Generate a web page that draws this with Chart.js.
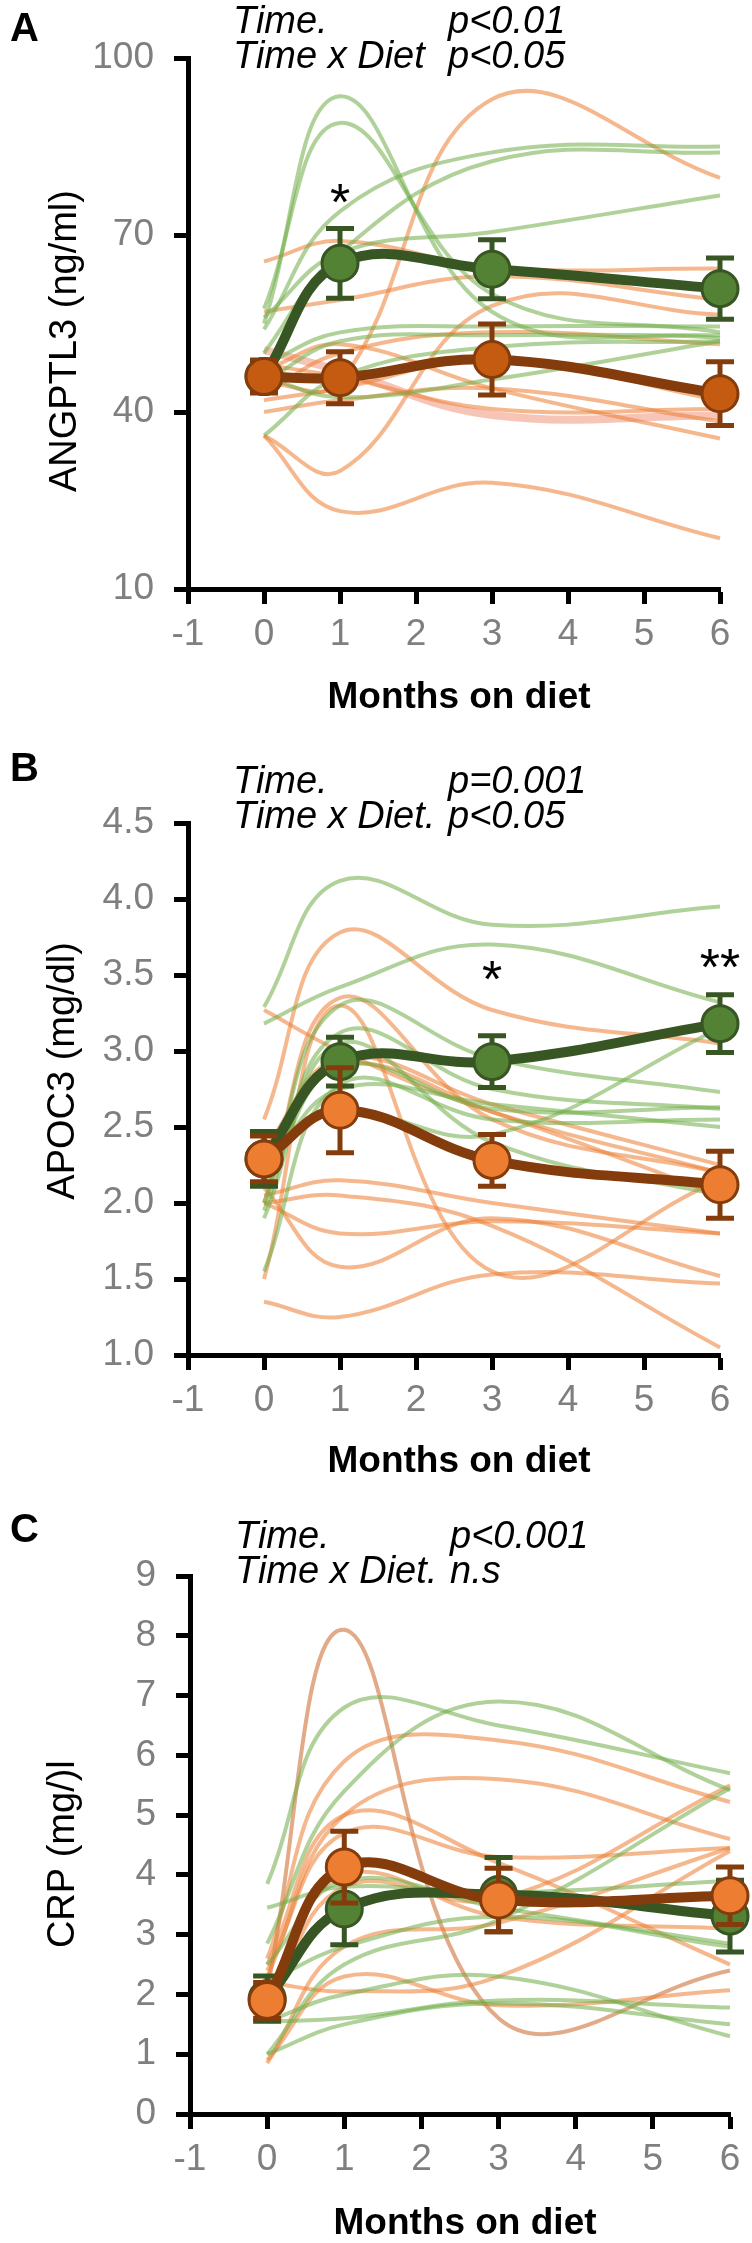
<!DOCTYPE html>
<html>
<head>
<meta charset="utf-8">
<script src="https://cdn.jsdelivr.net/npm/chart.js@4.4.1/dist/chart.umd.min.js"></script>
<style>
  body { margin: 0; background: #fff; width: 752px; height: 2243px; overflow: hidden; position: relative; }
  canvas { position: absolute; left: 0; }
</style>
</head>
<body>
<canvas id="chartA" width="752" height="740" style="top:0"></canvas>
<canvas id="chartB" width="752" height="740" style="top:740px"></canvas>
<canvas id="chartC" width="752" height="763" style="top:1480px"></canvas>
<script>
const months = [0, 1, 3, 6];

// A - ANGPTL3 (ng/ml)
const angGreenMean = [46.0, 65.2, 64.2, 60.9];
const angGreenErr = [2.6, 5.9, 5.0, 5.2];
const angOrangeMean = [46.0, 45.8, 48.9, 43.1];
const angOrangeErr = [2.8, 4.4, 6.0, 5.4];
const angGreenSubjects = [
  [55, 93.5, 57, 52.5],
  [57.5, 89, 60, 53.5],
  [54, 74, 84, 85],
  [50, 67, 82.5, 84],
  [56, 67, 70.5, 76.7],
  [48, 53.5, 54.5, 54.5],
  [45, 52, 53, 53],
  [36, 46, 51, 52],
  [46, 42.5, 45.5, 52]
];
const angOrangeSubjects = [
  [65.5, 69, 64.5, 64.3],
  [57, 59, 63, 59],
  [45, 45, 93, 79.7],
  [36, 30, 58, 56.5],
  [36, 23.2, 28, 18.6],
  [43, 50, 53.5, 51.5],
  [42, 44, 49, 42],
  [40, 42, 44, 38.4],
  [47, 51.5, 44, 35.5],
  [48, 46, 40.5, 40.5]
];
const angPinkSubject = [50.5, 47, 39.5, 39.4];

// B - APOC3 (mg/dl)
const apoGreenMean = [2.29, 2.93, 2.93, 3.18];
const apoGreenErr = [0.18, 0.16, 0.17, 0.19];
const apoOrangeMean = [2.29, 2.61, 2.28, 2.12];
const apoOrangeErr = [0.15, 0.28, 0.17, 0.22];
const apoGreenSubjects = [
  [3.29, 4.12, 3.83, 3.95],
  [3.18, 3.42, 3.70, 3.32],
  [2.0, 3.3, 2.95, 2.73],
  [1.95, 3.12, 2.75, 2.62],
  [2.1, 2.9, 2.62, 2.63],
  [1.55, 2.78, 2.55, 2.55],
  [2.2, 2.75, 2.65, 2.5],
  [1.9, 3.05, 2.4, 2.05],
  [2.3, 2.6, 2.45, 3.15]
];
const apoOrangeSubjects = [
  [2.55, 3.78, 3.27, 3.05],
  [3.27, 3.0, 2.6, 2.2],
  [2.0, 3.35, 2.55, 2.2],
  [1.5, 3.3, 1.55, 2.15],
  [2.05, 2.15, 2.0, 1.8],
  [2.0, 1.8, 1.88, 1.8],
  [2.1, 1.58, 1.9, 1.52],
  [1.35, 1.25, 1.53, 1.47],
  [2.0, 2.05, 1.85, 1.05],
  [2.2, 2.9, 2.6, 2.05],
  [2.35, 2.95, 2.65, 2.25]
];

// C - CRP
const crpGreenMean = [1.93, 3.43, 3.67, 3.31];
const crpGreenErr = [0.38, 0.6, 0.62, 0.6];
const crpOrangeMean = [1.90, 4.13, 3.58, 3.65];
const crpOrangeErr = [0.3, 0.6, 0.53, 0.48];
const crpGreenSubjects = [
  [3.85, 6.8, 6.5, 5.7],
  [2.85, 5.4, 6.9, 5.42],
  [3.45, 3.8, 3.7, 3.9],
  [2.5, 3.9, 3.45, 2.85],
  [1.0, 2.5, 3.25, 5.45],
  [1.55, 1.6, 1.9, 1.78],
  [1.0, 1.5, 1.85, 1.5],
  [1.55, 2.0, 2.3, 1.3],
  [2.2, 2.8, 3.3, 2.8]
];
const crpOrangeSubjects = [
  [2.6, 5.9, 6.25, 5.22],
  [2.3, 5.0, 5.6, 4.6],
  [2.5, 5.0, 4.2, 2.5],
  [2.4, 4.7, 4.3, 4.45],
  [0.85, 2.8, 3.2, 4.45],
  [0.9, 2.3, 1.82, 2.07],
  [2.2, 2.05, 2.3, 4.4],
  [1.8, 3.8, 3.6, 5.5],
  [2.0, 4.0, 3.3, 3.1]
];
const crpSpikeSubject = [2.1, 8.1, 1.6, 2.4];

const FONT = '"Liberation Sans", Arial, sans-serif';
const GREY = '#7f7f7f';
const LIGHT_GREEN = 'rgba(112,173,71,0.55)';
const LIGHT_ORANGE = 'rgba(237,125,49,0.55)';
const DARK_GREEN = '#375623';
const MID_GREEN = '#548235';
const DARK_ORANGE = '#843c0c';

Chart.defaults.font.family = FONT;

// error bars drawn just before their mean line, so marker sits on top
const errorBars = {
  id: 'errorBars',
  beforeDatasetDraw(chart, args) {
    const ds = chart.data.datasets[args.index];
    if (!ds.errs) return;
    const { ctx, scales: { x, y } } = chart;
    ctx.save();
    ctx.strokeStyle = ds.errColor;
    ctx.lineWidth = 5;
    ds.data.forEach((pt, i) => {
      const px = x.getPixelForValue(pt.x);
      const top = y.getPixelForValue(pt.y + ds.errs[i]);
      const bot = y.getPixelForValue(pt.y - ds.errs[i]);
      ctx.beginPath();
      ctx.moveTo(px, top); ctx.lineTo(px, bot);
      ctx.moveTo(px - 14, top); ctx.lineTo(px + 14, top);
      ctx.moveTo(px - 14, bot); ctx.lineTo(px + 14, bot);
      ctx.stroke();
    });
    ctx.restore();
  }
};

// panel letter, stats, axis titles, significance stars
const panelText = {
  id: 'panelText',
  afterDraw(chart, args, o) {
    const { ctx, chartArea: a, scales: { x, y } } = chart;
    ctx.save();
    ctx.fillStyle = '#000';
    ctx.textAlign = 'left';
    ctx.textBaseline = 'middle';
    ctx.font = 'bold 40px ' + FONT;
    ctx.fillText(o.letter, 10, o.letterY);

    ctx.font = 'italic 38px ' + FONT;
    ctx.textBaseline = 'alphabetic';
    o.stats.forEach((row, i) => {
      const by = a.top + o.statY[i];
      ctx.fillText(row[0], a.left + 45, by);
      ctx.fillText(row[1], a.left + 260, by);
    });

    ctx.textAlign = 'center';
    ctx.textBaseline = 'middle';
    ctx.font = 'bold 37px ' + FONT;
    ctx.fillText('Months on diet', (a.left + a.right) / 2 + 5, a.bottom + o.xTitleDy);

    ctx.font = '52px ' + FONT;
    ctx.textBaseline = 'alphabetic';
    o.stars.forEach(s => {
      ctx.fillText(s.text, x.getPixelForValue(s.x), y.getPixelForValue(s.y) + 30);
    });

    ctx.translate(o.yTitleX, a.top + (a.bottom - a.top) * o.yTitleFrac);
    ctx.rotate(-Math.PI / 2);
    ctx.textBaseline = 'middle';
    ctx.font = '38px ' + FONT;
    ctx.fillText(o.yTitle, 0, 0);
    ctx.restore();
  }
};

function buildChart(id, p) {
  const pts = vals => months.map((m, i) => ({ x: m, y: vals[i] }));
  const thin = (vals, color, width) => ({
    data: pts(vals), borderColor: color, borderWidth: width || 4,
    pointRadius: 0, tension: 0.4, order: 10, clip: false
  });
  const datasets = [];
  p.greenSubjects.forEach(v => datasets.push(thin(v, LIGHT_GREEN)));
  p.orangeSubjects.forEach(v => datasets.push(thin(v, LIGHT_ORANGE)));
  (p.extra || []).forEach(e => datasets.push(thin(e.values, e.color, e.width)));
  datasets.push({
    data: pts(p.greenMean), errs: p.greenErr, errColor: DARK_GREEN,
    borderColor: DARK_GREEN, borderWidth: 10, tension: 0.4,
    pointRadius: 18, pointBackgroundColor: MID_GREEN, pointBorderColor: DARK_GREEN, pointBorderWidth: 3,
    order: 2, clip: false
  });
  datasets.push({
    data: pts(p.orangeMean), errs: p.orangeErr, errColor: DARK_ORANGE,
    borderColor: DARK_ORANGE, borderWidth: 10, tension: 0.4,
    pointRadius: 18, pointBackgroundColor: p.orangeFill, pointBorderColor: DARK_ORANGE, pointBorderWidth: 3,
    order: 1, clip: false
  });

  const axisBorder = { color: '#000', width: 5 };

  new Chart(document.getElementById(id), {
    type: 'line',
    data: { datasets },
    options: {
      responsive: false,
      animation: false,
      events: [],
      layout: { padding: { left: 0, top: p.top, right: 752 - p.right, bottom: 0 } },
      plugins: {
        legend: { display: false },
        tooltip: { enabled: false },
        panelText: p.text
      },
      scales: {
        x: {
          type: 'linear', min: -1, max: 6,
          afterFit: s => { s.height = p.height - p.bottom; },
          ticks: { stepSize: 1, color: GREY, font: { size: 37 }, padding: 9 },
          grid: { drawOnChartArea: false, tickLength: 15, tickWidth: 5, tickColor: '#000' },
          border: axisBorder
        },
        y: {
          type: 'linear', min: p.yMin, max: p.yMax,
          afterFit: s => { s.width = p.left; },
          ticks: { stepSize: p.yStep, color: GREY, font: { size: 37 }, padding: 20, callback: p.yFormat },
          grid: { drawOnChartArea: false, tickLength: 14, tickWidth: 5, tickColor: '#000' },
          border: axisBorder
        }
      }
    },
    plugins: [errorBars, panelText]
  });
}

buildChart('chartA', {
  height: 740, top: 58, bottom: 589, left: 188, right: 720,
  yMin: 10, yMax: 100, yStep: 30, yFormat: v => v,
  greenMean: angGreenMean, greenErr: angGreenErr,
  orangeMean: angOrangeMean, orangeErr: angOrangeErr, orangeFill: '#c55a11',
  greenSubjects: angGreenSubjects, orangeSubjects: angOrangeSubjects,
  extra: [{ values: angPinkSubject, color: 'rgba(244,177,160,0.75)', width: 8 }],
  text: {
    letter: 'A', letterY: 30,
    stats: [['Time.', 'p<0.01'], ['Time x Diet', 'p<0.05']], statY: [-25, 10],
    xTitleDy: 109, yTitle: 'ANGPTL3 (ng/ml)', yTitleX: 66, yTitleFrac: 0.533,
    stars: [{ text: '*', x: 1, y: 77.7 }]
  }
});

buildChart('chartB', {
  height: 740, top: 83, bottom: 615, left: 188, right: 720,
  yMin: 1, yMax: 4.5, yStep: 0.5, yFormat: v => v.toFixed(1),
  greenMean: apoGreenMean, greenErr: apoGreenErr,
  orangeMean: apoOrangeMean, orangeErr: apoOrangeErr, orangeFill: '#ed7d31',
  greenSubjects: apoGreenSubjects, orangeSubjects: apoOrangeSubjects,
  text: {
    letter: 'B', letterY: 30,
    stats: [['Time.', 'p=0.001'], ['Time x Diet.', 'p<0.05']], statY: [-30, 5],
    xTitleDy: 107, yTitle: 'APOC3 (mg/dl)', yTitleX: 64, yTitleFrac: 0.466,
    stars: [{ text: '*', x: 3, y: 3.55 }, { text: '**', x: 6, y: 3.63 }]
  }
});

buildChart('chartC', {
  height: 763, top: 96, bottom: 634, left: 190, right: 730,
  yMin: 0, yMax: 9, yStep: 1, yFormat: v => v,
  greenMean: crpGreenMean, greenErr: crpGreenErr,
  orangeMean: crpOrangeMean, orangeErr: crpOrangeErr, orangeFill: '#ed7d31',
  greenSubjects: crpGreenSubjects, orangeSubjects: crpOrangeSubjects,
  extra: [{ values: crpSpikeSubject, color: 'rgba(205,115,60,0.6)', width: 4 }],
  text: {
    letter: 'C', letterY: 51,
    stats: [['Time.', 'p<0.001'], ['Time x Diet.', 'n.s']], statY: [-28, 7],
    xTitleDy: 110, yTitle: 'CRP (mg/)l', yTitleX: 64, yTitleFrac: 0.517,
    stars: []
  }
});
</script>
</body>
</html>
